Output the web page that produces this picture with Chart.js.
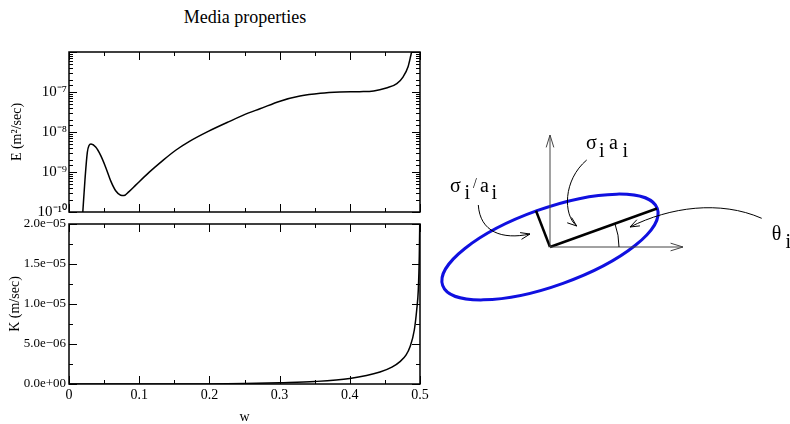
<!DOCTYPE html>
<html lang="en">
<head>
<meta charset="utf-8">
<title>Media properties</title>
<script src="https://cdn.jsdelivr.net/npm/chart.js@4.4.1/dist/chart.umd.min.js"></script>
<style>
  html, body { margin: 0; padding: 0; background: #fff; }
  body { width: 790px; height: 424px; position: relative; overflow: hidden; font-family: 'Liberation Serif', 'Times New Roman', serif; }
  .box { position: absolute; }
  #title { position: absolute; left: 145px; width: 200px; top: 7px; text-align: center; font-size: 18px; }
</style>
</head>
<body>
<div id="title">Media properties</div>
<div class="box" style="left:0;top:40px;width:440px;height:184px"><canvas id="eChart"></canvas></div>
<div class="box" style="left:0;top:214px;width:440px;height:210px"><canvas id="kChart"></canvas></div>
<div class="box" style="left:425px;top:102px;width:365px;height:220px"><canvas id="sketch"></canvas></div>

<script>
// ---- data ----
const eW   = [0.0195, 0.0228, 0.0261, 0.0285, 0.0313, 0.038, 0.0451, 0.0522, 0.0594, 0.0665, 0.0736, 0.0783, 0.0855, 0.095, 0.114, 0.133, 0.152, 0.171, 0.199, 0.228, 0.256, 0.272, 0.3006, 0.329, 0.358, 0.386, 0.414, 0.434, 0.452, 0.467, 0.476, 0.483, 0.487, 0.4895];
const eVal = [9e-11, 6.6e-10, 3.1e-9, 4.6e-9, 5.0e-9, 4.2e-9, 2.6e-9, 1.32e-9, 6.0e-10, 3.4e-10, 2.63e-10, 2.57e-10, 3.24e-10, 4.7e-10, 9.8e-10, 1.9e-9, 3.5e-9, 5.75e-9, 1.05e-8, 1.82e-8, 3.0e-8, 3.8e-8, 5.9e-8, 7.9e-8, 9.3e-8, 1.0e-7, 1.02e-7, 1.06e-7, 1.26e-7, 1.62e-7, 2.4e-7, 4.3e-7, 8.3e-7, 1.3e-6];

const kW   = [0, 0.1, 0.2, 0.25, 0.3, 0.35, 0.4, 0.443, 0.46, 0.4715, 0.48, 0.4858, 0.4919, 0.4953, 0.4976, 0.499, 0.4998];
const kVal = [0, 0, 1e-8, 5e-8, 1.6e-7, 3.1e-7, 7e-7, 1.5e-6, 2.1e-6, 2.8e-6, 3.6e-6, 4.66e-6, 6.75e-6, 9.25e-6, 1.18e-5, 1.6e-5, 2.1e-5];

const wTicks = [0, 0.1, 0.2, 0.3, 0.4, 0.5];
const kTicks = [0, 5e-6, 1e-5, 1.5e-5, 2e-5];
const eDecades = [-10, -9, -8, -7];

// diagram marks (units ~ px, origin at the ellipse centre, y up)
const vAxis = [{x: 0, y: 0}, {x: 0, y: 112}];
const hAxis = [{x: 0, y: 0}, {x: 133, y: 0}];
const majorSeg = [{x: 0, y: 0}, {x: 107, y: 38.5}];
const minorSeg = [{x: 0, y: 0}, {x: -14, y: 36.3}];
const ellipse = {a: 114, b: 38.6, angle: 19.7};

Chart.defaults.font.family = "'Liberation Serif', 'Times New Roman', serif";
Chart.defaults.color = '#000';
Chart.defaults.animation = false;
Chart.defaults.plugins.legend.display = false;
Chart.defaults.plugins.tooltip.enabled = false;

const SUP = {'-': '\u207B', '0': '\u2070', '1': '\u00B9', '2': '\u00B2', '3': '\u00B3', '4': '\u2074', '5': '\u2075', '6': '\u2076', '7': '\u2077', '8': '\u2078', '9': '\u2079'};
function sup(n) { return String(n).split('').map(c => SUP[c]).join(''); }

function isWMajor(v) { return wTicks.some(t => Math.abs(t - v) < 1e-6); }
function isKMajor(v) { return kTicks.some(t => Math.abs(t - v) < 1e-12); }
function isDecade(v) { const l = Math.log10(v); return Math.abs(l - Math.round(l)) < 1e-6; }

function kLabel(v) {
  if (!isKMajor(v)) return '';
  if (v === 0) return '0.0e+00';
  const [m, e] = v.toExponential(1).split('e');
  const n = parseInt(e, 10);
  return m + 'e' + (n < 0 ? '\u2212' : '+') + String(Math.abs(n)).padStart(2, '0');
}
function eLabel(v) {
  const l = Math.round(Math.log10(v));
  if (!isDecade(v) || !eDecades.includes(l)) return '';
  return '10' + sup(l);
}

// frame + inward ticks on all four sides
const frameTicks = {
  id: 'frameTicks',
  afterDatasetsDraw(chart, args, opts) {
    const {ctx, chartArea: a, scales: {x, y}} = chart;
    ctx.save();
    ctx.strokeStyle = '#000';
    ctx.lineWidth = 1;
    ctx.beginPath();
    x.ticks.forEach(t => {
      const px = Math.round(x.getPixelForValue(t.value)) + 0.5;
      const len = isWMajor(t.value) ? 8 : 4;
      ctx.moveTo(px, a.bottom); ctx.lineTo(px, a.bottom - len);
      ctx.moveTo(px, a.top); ctx.lineTo(px, a.top + len);
    });
    y.ticks.forEach(t => {
      const py = Math.round(y.getPixelForValue(t.value)) + 0.5;
      const len = opts.major(t.value) ? 8 : 4;
      ctx.moveTo(a.left, py); ctx.lineTo(a.left + len, py);
      ctx.moveTo(a.right, py); ctx.lineTo(a.right - len, py);
    });
    ctx.stroke();
    ctx.lineWidth = 1.5;
    ctx.strokeRect(a.left, a.top, a.right - a.left, a.bottom - a.top);
    ctx.restore();
  }
};

const curveStyle = {borderColor: '#000', borderWidth: 1.5, pointRadius: 0, showLine: true, cubicInterpolationMode: 'monotone'};
const noGrid = {display: false, drawTicks: false};
const noBorder = {display: false};

new Chart(document.getElementById('eChart'), {
  type: 'scatter',
  data: {datasets: [Object.assign({data: eW.map((w, i) => ({x: w, y: eVal[i]}))}, curveStyle)]},
  options: {
    responsive: true, maintainAspectRatio: false, events: [],
    layout: {padding: {top: 12, right: 20, bottom: 12, left: 0}},
    scales: {
      x: {type: 'linear', min: 0, max: 0.5, grid: noGrid, border: noBorder,
          ticks: {display: false, stepSize: 0.05},
          afterFit(s) { s.height = 0; s.paddingLeft = 0; s.paddingRight = 0; }},
      y: {type: 'logarithmic', min: 1e-10, max: 1e-6, grid: noGrid, border: noBorder,
          ticks: {autoSkip: false, callback: eLabel, font: {size: 15}, padding: 2},
          title: {display: true, text: 'E (m\u00B2/sec)', font: {size: 14}, padding: {top: 9, bottom: 0}},
          afterFit(s) { s.width = 69; s.paddingTop = 0; s.paddingBottom = 0; }}
    },
    plugins: {frameTicks: {major: isDecade}}
  },
  plugins: [frameTicks]
});

new Chart(document.getElementById('kChart'), {
  type: 'scatter',
  data: {datasets: [Object.assign({data: kW.map((w, i) => ({x: w, y: kVal[i]}))}, curveStyle)]},
  options: {
    responsive: true, maintainAspectRatio: false, events: [],
    layout: {padding: {top: 10, right: 20, bottom: 0, left: 0}},
    scales: {
      x: {type: 'linear', min: 0, max: 0.5, grid: noGrid, border: noBorder,
          ticks: {autoSkip: false, stepSize: 0.05, maxRotation: 0, padding: 3, font: {size: 14},
                  callback: v => isWMajor(v) ? (v === 0 ? '0' : v.toFixed(1)) : ''},
          title: {display: true, text: 'w', font: {size: 14, lineHeight: 0.9}, padding: {top: 0, bottom: 0}},
          afterFit(s) { s.height = 40; s.paddingLeft = 0; s.paddingRight = 0; }},
      y: {type: 'linear', min: 0, max: 2e-5, grid: noGrid, border: noBorder,
          ticks: {autoSkip: false, stepSize: 2.5e-6, callback: kLabel, font: {size: 13}, padding: 3},
          title: {display: true, text: 'K (m/sec)', font: {size: 14}, padding: {top: 7, bottom: 0}},
          afterFit(s) { s.width = 69; s.paddingTop = 0; s.paddingBottom = 0; }}
    },
    plugins: {frameTicks: {major: isKMajor}}
  },
  plugins: [frameTicks]
});

// ---- the ellipse sketch ----
function arrowHead(ctx, tx, ty, ang, len, spread) {
  ctx.beginPath();
  ctx.moveTo(tx - len * Math.cos(ang - spread), ty - len * Math.sin(ang - spread));
  ctx.lineTo(tx, ty);
  ctx.lineTo(tx - len * Math.cos(ang + spread), ty - len * Math.sin(ang + spread));
  ctx.stroke();
}

const curvedArrows = [
  [[36.7, 87], [13, 67], [13, 32], [26.7, 21]],
  [[-71.7, 42], [-70, 15], [-48, 7], [-20, 13]],
  [[211.7, 28.7], [170, 47], [120, 40], [80, 20]]
];

const sketchPlugin = {
  id: 'sketchPlugin',
  beforeDatasetsDraw(chart) {
    const {ctx, scales: {x, y}} = chart;
    const cx = x.getPixelForValue(0), cy = y.getPixelForValue(0);
    const k = x.getPixelForValue(1) - cx;
    ctx.save();
    ctx.strokeStyle = '#1010e0';
    ctx.lineWidth = 3;
    ctx.beginPath();
    ctx.ellipse(cx, cy, ellipse.a * k, ellipse.b * k, -ellipse.angle * Math.PI / 180, 0, Math.PI * 2);
    ctx.stroke();
    ctx.restore();
  },
  afterDatasetsDraw(chart) {
    const {ctx, scales: {x, y}} = chart;
    const P = (p) => [x.getPixelForValue(p[0]), y.getPixelForValue(p[1])];
    const [cx, cy] = P([0, 0]);
    ctx.save();
    // axis arrow heads
    ctx.strokeStyle = '#444';
    ctx.lineWidth = 1;
    const vt = P([vAxis[1].x, vAxis[1].y]);
    arrowHead(ctx, vt[0], vt[1], -Math.PI / 2, 13, 0.3);
    const ht = P([hAxis[1].x, hAxis[1].y]);
    arrowHead(ctx, ht[0], ht[1], 0, 13, 0.3);
    // angle arc
    ctx.strokeStyle = '#000';
    ctx.beginPath();
    ctx.arc(cx, cy, 69, -ellipse.angle * Math.PI / 180, 0);
    ctx.stroke();
    // curved pointers
    curvedArrows.forEach(c => {
      const [p0, p1, p2, p3] = c.map(P);
      ctx.beginPath();
      ctx.moveTo(p0[0], p0[1]);
      ctx.bezierCurveTo(p1[0], p1[1], p2[0], p2[1], p3[0], p3[1]);
      ctx.stroke();
      arrowHead(ctx, p3[0], p3[1], Math.atan2(p3[1] - p2[1], p3[0] - p2[0]), 10, 0.35);
    });
    // labels
    ctx.fillStyle = '#000';
    ctx.textBaseline = 'alphabetic';
    const big = "20px 'Liberation Serif', 'DejaVu Serif', serif";
    const put = (txt, p, font) => { const q = P(p); ctx.font = font || big; ctx.fillText(txt, q[0], q[1]); };
    put('\u03C3', [36, 98.5]);  put('i', [49, 90.5]);
    put('a', [59, 98.5]);       put('i', [72.5, 90.5]);
    put('\u03C3', [-100, 55]);  put('i', [-85.5, 48]);
    put('/', [-77, 59], "14px 'Liberation Serif', serif");
    put('a', [-70, 55]);        put('i', [-58.5, 48]);
    put('\u03B8', [221.7, 7]);  put('i', [235.5, -1]);
    ctx.restore();
  }
};

const segStyle = (color, w) => ({borderColor: color, borderWidth: w, pointRadius: 0, showLine: true, tension: 0});
new Chart(document.getElementById('sketch'), {
  type: 'scatter',
  data: {datasets: [
    Object.assign({data: vAxis}, segStyle('#444', 1)),
    Object.assign({data: hAxis}, segStyle('#444', 1)),
    Object.assign({data: majorSeg}, segStyle('#000', 2.5)),
    Object.assign({data: minorSeg}, segStyle('#000', 2.5))
  ]},
  options: {
    responsive: true, maintainAspectRatio: false, events: [],
    layout: {padding: 0},
    scales: {
      x: {type: 'linear', min: -125, max: 240, display: false},
      y: {type: 'linear', min: -75, max: 145, display: false}
    }
  },
  plugins: [sketchPlugin]
});
</script>
</body>
</html>
